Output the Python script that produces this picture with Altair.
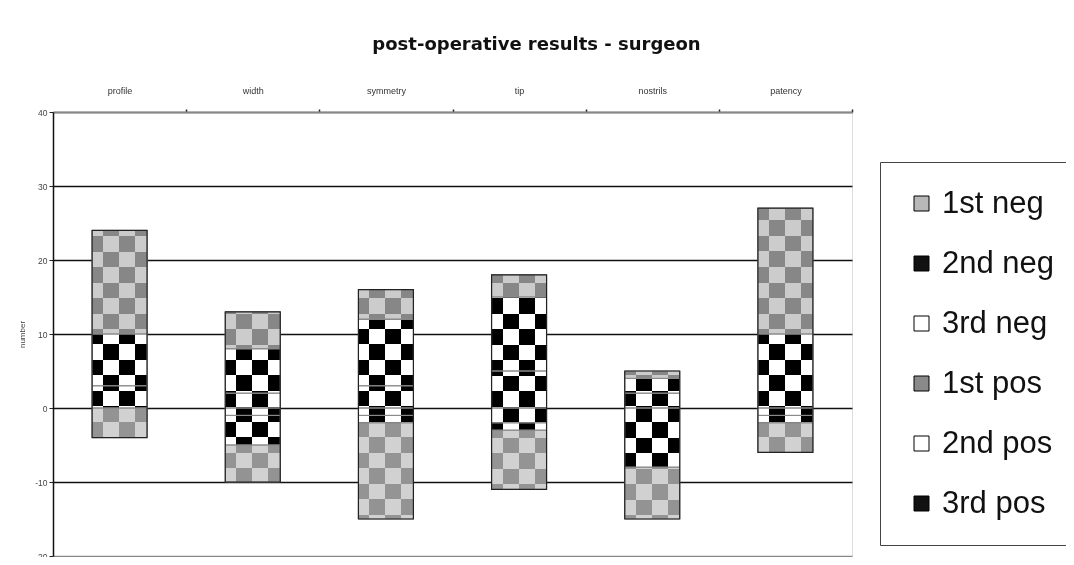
import altair as alt
import pandas as pd
import numpy as np

# ---------------- data ----------------
categories = ["profile", "width", "symmetry", "tip", "nostrils", "patency"]
neg1 = [-4, -5, -13, -8, -7, -4]
neg2 = [0, -4, -1, -1, -8, -1]
neg3 = [0, -1, -1, -2, 0, -1]
pos1 = [14, 5, 4, 3, 1, 17]
pos2 = [7, 6, 9, 10, 2, 10]
pos3 = [3, 2, 3, 5, 2, 0]

series_names = ["1st neg", "2nd neg", "3rd neg", "1st pos", "2nd pos", "3rd pos"]
series_values = [neg1, neg2, neg3, pos1, pos2, pos3]
legend_colors = ["#b8b8b8", "#111111", "#ffffff", "#8a8a8a", "#ffffff", "#111111"]
y_ticks = [-20, -10, 0, 10, 20, 30, 40]

# ---------------- geometry / style ----------------
W, H = 799, 444
Y_MIN, Y_MAX = -20, 40
PX = H / (Y_MAX - Y_MIN)
N = len(categories)
BAR_W = 55
STEP = W / N
P_IN = 1 - BAR_W / STEP
CELL = 15.5

# ---------------- tables ----------------
rows = []
for i, c in enumerate(categories):
    base = 0
    for name in ["3rd pos", "2nd pos", "1st pos"]:
        v = series_values[series_names.index(name)][i]
        rows.append(dict(category=c, series=name, value=v, y0=base, y1=base + v))
        base += v
    base = 0
    for name in ["3rd neg", "2nd neg", "1st neg"]:
        v = series_values[series_names.index(name)][i]
        rows.append(dict(category=c, series=name, value=v, y0=base, y1=base + v))
        base += v
seg = pd.DataFrame(rows)

reg_rows = []
for i, c in enumerate(categories):
    mid_hi = pos3[i] + pos2[i]
    mid_lo = neg3[i] + neg2[i]
    top = mid_hi + pos1[i]
    bot = mid_lo + neg1[i]
    reg_rows.append(dict(rid=f"{c}-top", category=c, kind="gray_pos", lo=mid_hi, hi=top))
    reg_rows.append(dict(rid=f"{c}-mid", category=c, kind="check", lo=mid_lo, hi=mid_hi))
    reg_rows.append(dict(rid=f"{c}-bot", category=c, kind="gray_neg", lo=bot, hi=mid_lo))
reg = pd.DataFrame(reg_rows)
reg = reg[reg.hi > reg.lo].reset_index(drop=True)

tot = pd.DataFrame(dict(category=categories,
                        lo=[a + b + d for a, b, d in zip(neg1, neg2, neg3)],
                        hi=[a + b + d for a, b, d in zip(pos1, pos2, pos3)]))

x_enc = alt.X("category:N", sort=categories,
              scale=alt.Scale(paddingInner=P_IN, paddingOuter=P_IN / 2),
              axis=alt.Axis(orient="top", title=None, labelAngle=0, labelFontSize=9,
                            labelColor="#333", labelFont="Liberation Sans", labelPadding=14,
                            tickOffset=STEP / 2, labelOffset=-STEP / 2,
                            tickSize=3, tickColor="#222", tickWidth=1.5,
                            domainColor="#888", domainWidth=2, grid=False))
y_scale = alt.Scale(domain=[Y_MIN, Y_MAX], nice=False, zero=False)


def vgrad(dark, light):
    edges = [11 / BAR_W, 27 / BAR_W, 43 / BAR_W]
    cols = [dark, light, dark, light]
    stops = []
    for k, col in enumerate(cols):
        start = 0.0 if k == 0 else edges[k - 1]
        end = 1.0 if k == len(cols) - 1 else edges[k]
        stops.append(alt.GradientStop(offset=start, color=col))
        stops.append(alt.GradientStop(offset=end, color=col))
    return alt.LinearGradient(gradient="linear", stops=stops, x1=0, x2=1, y1=0, y2=0)


def hgrad(lo, hi):
    top_px = (Y_MAX - hi) * PX
    h = (hi - lo) * PX
    k = int(np.floor(top_px / CELL + 1e-6))
    stops = []
    start = 0.0
    while True:
        boundary = (k + 1) * CELL - top_px
        end = min(boundary / h, 1.0)
        col = "black" if k % 2 == 0 else "white"
        stops.append(alt.GradientStop(offset=start, color=col))
        stops.append(alt.GradientStop(offset=end, color=col))
        if boundary >= h:
            break
        start = end
        k += 1
    return alt.LinearGradient(gradient="linear", stops=stops, x1=0, x2=0, y1=0, y2=1)


layers = []

# base solid layer (carries the legend)
base = alt.Chart(seg).mark_bar().encode(
    x=x_enc,
    y=alt.Y("y1:Q", scale=y_scale,
            axis=alt.Axis(values=y_ticks, labelExpr="'' + datum.value",
                          title="number", titleFontSize=8,
                          titleFontWeight="normal", titleColor="#444", titlePadding=8,
                          labelFontSize=8.5, labelColor="#444", labelFont="Liberation Sans",
                          tickSize=4, tickColor="#222", domainColor="#111", domainWidth=1.5,
                          gridColor={"condition": {"test": "datum.value == 40 || datum.value == -20",
                                                   "value": "#888"}, "value": "#111"},
                          gridWidth=1.4)),
    y2="y0:Q",
    color=alt.Color("series:N", scale=alt.Scale(domain=series_names, range=legend_colors),
                    sort=series_names,
                    legend=alt.Legend(title=None, orient="none", legendX=827, legendY=50,
                                      symbolType="square", symbolSize=225,
                                      symbolStrokeColor="black", symbolStrokeWidth=1,
                                      labelFontSize=31, labelFont="Liberation Sans",
                                      labelColor="#111", labelOffset=5, rowPadding=28,
                                      padding=26, strokeColor="#444", fillColor="white",
                                      labelLimit=400)),
)
layers.append(base)

# vertical stripes (checker base)
layers.append(alt.Chart(reg).transform_filter("datum.kind == 'check'")
              .mark_bar(fill=vgrad("black", "white")).encode(x=x_enc, y=alt.Y("hi:Q", scale=y_scale), y2="lo:Q"))
layers.append(alt.Chart(reg).transform_filter("datum.kind != 'check'")
              .mark_bar(fill=vgrad("#4d4d4d", "#b3b3b3")).encode(x=x_enc, y=alt.Y("hi:Q", scale=y_scale), y2="lo:Q"))

# horizontal stripes with difference blend -> checkerboard
for _, r in reg.iterrows():
    layers.append(alt.Chart(reg).transform_filter(f"datum.rid == '{r.rid}'")
                  .mark_bar(fill=hgrad(r.lo, r.hi), blend="difference")
                  .encode(x=x_enc, y=alt.Y("hi:Q", scale=y_scale), y2="lo:Q"))

# lighten gray checker
layers.append(alt.Chart(reg).transform_filter("datum.kind == 'gray_pos'")
              .mark_bar(fill="white", opacity=0.33).encode(x=x_enc, y=alt.Y("hi:Q", scale=y_scale), y2="lo:Q"))
layers.append(alt.Chart(reg).transform_filter("datum.kind == 'gray_neg'")
              .mark_bar(fill="white", opacity=0.40).encode(x=x_enc, y=alt.Y("hi:Q", scale=y_scale), y2="lo:Q"))

# segment outlines
layers.append(alt.Chart(seg).transform_filter("datum.value != 0")
              .mark_bar(fillOpacity=0, stroke="#8a8a8a", strokeWidth=1)
              .encode(x=x_enc, y=alt.Y("y1:Q", scale=y_scale), y2="y0:Q"))
# whole bar outline
layers.append(alt.Chart(tot).mark_bar(fillOpacity=0, stroke="#222", strokeWidth=1.2)
              .encode(x=x_enc, y=alt.Y("hi:Q", scale=y_scale), y2="lo:Q"))

chart = alt.layer(*layers).properties(
    width=W, height=H,
    autosize=alt.AutoSizeParams(type="none"),
    padding={"left": 45, "top": 104, "right": 214, "bottom": 1},
    title=alt.TitleParams("post-operative results - surgeon", anchor="middle", dx=84,
                          font="DejaVu Sans", fontSize=18, fontWeight="bold",
                          color="#111", offset=32),
).configure_view(stroke="#111", strokeWidth=1.5).configure(background="white")

chart.save("out.html", embed_options={"renderer": "svg", "actions": False})
